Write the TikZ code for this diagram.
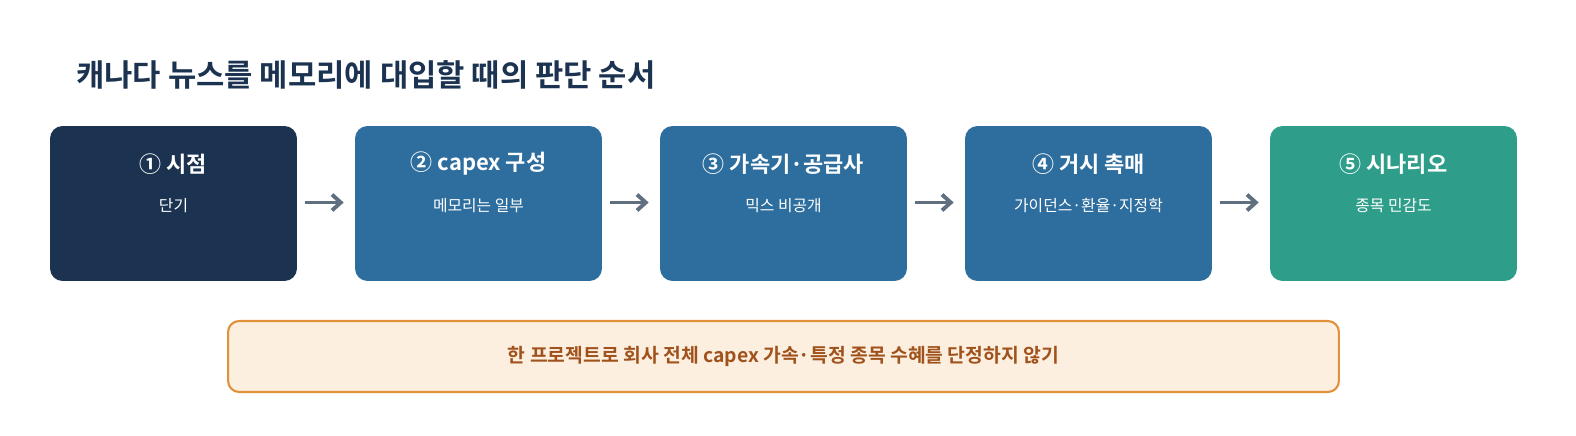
\documentclass[tikz,border=0pt]{standalone}
\usepackage{fontspec}
\setmainfont{Noto Sans CJK KR}
\newfontfamily\kb{Noto Sans CJK KR Bold}
\usetikzlibrary{arrows.meta}
\definecolor{navy}{HTML}{1B3350}
\definecolor{steel}{HTML}{2E6E9E}
\definecolor{teal}{HTML}{2E9E8A}
\definecolor{arr}{HTML}{5F6F80}
\definecolor{nfill}{HTML}{FDEFE0}
\definecolor{nbord}{HTML}{E0913A}
\definecolor{ntext}{HTML}{A0521C}
\begin{document}
\begin{tikzpicture}[x=0.02cm,y=-0.02cm,
 box/.style={rounded corners=0.25cm,minimum width=4.94cm,minimum height=3.1cm,inner sep=0pt},
 ttl/.style={text=white,font=\kb\fontsize{12.5}{15}\selectfont},
 sub/.style={text=white,font=\fontsize{9}{11}\selectfont},
 ar/.style={draw=arr,line width=2.2pt,-{Straight Barb[length=5pt,width=9pt]}}]
\useasboundingbox (0,0) rectangle (1576,436);
\node[anchor=west,text=navy,font=\kb\fontsize{17.5}{21}\selectfont] (t) at (70,75) {캐나다 뉴스를 메모리에 대입할 때의 판단 순서};
\foreach \i/\x/\c/\a/\b in {1/173.5/navy/① 시점/단기/장기 분리,2/478.5/steel/② capex 구성/메모리는 일부,3/783.5/steel/③ 가속기·공급사/믹스 비공개,4/1088.5/steel/④ 거시 촉매/가이던스·환율·지정학,5/1393.5/teal/⑤ 시나리오/종목 민감도}{
 \node[box,fill=\c] (b\i) at (\x,203.5) {};
 \node[ttl] (h\i) at (\x,164) {\a};
 \node[sub] (s\i) at (\x,206) {\b};
}
\foreach \i/\j in {1/2,2/3,3/4,4/5}{
 \draw[ar] ([xshift=0.16cm,yshift=0.02cm]b\i.east) -- ([xshift=-0.22cm,yshift=0.02cm]b\j.west);
}
\node[draw=nbord,line width=1.2pt,fill=nfill,rounded corners=0.22cm,minimum width=22.22cm,minimum height=1.42cm,text=ntext,font=\kb\fontsize{11}{13}\selectfont] (n) at (783.5,356.5) {한 프로젝트로 회사 전체 capex 가속·특정 종목 수혜를 단정하지 않기};
\end{tikzpicture}
\end{document}
